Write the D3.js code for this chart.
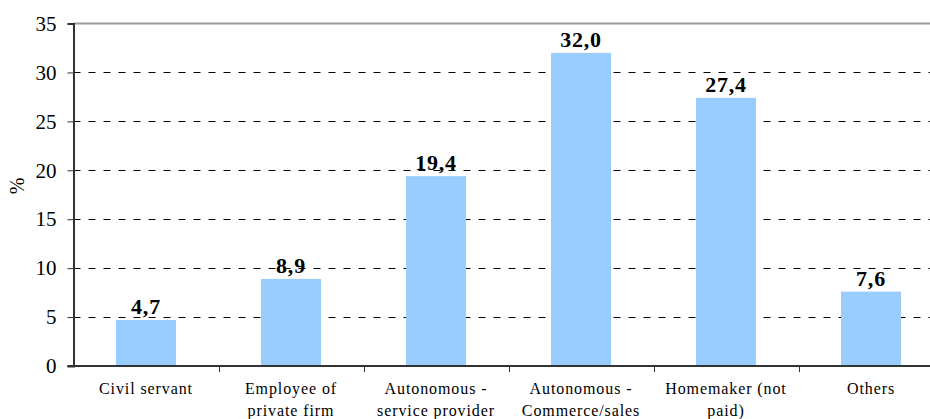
<!DOCTYPE html>
<html><head><meta charset="utf-8">
<script src="https://cdn.jsdelivr.net/npm/d3@7"></script>
<style>
body{margin:0;background:#fff;}
svg{display:block;}
</style></head>
<body>
<svg id="chart" width="930" height="419"></svg>
<script>
const categories = [
  ["Civil servant"],
  ["Employee of","private firm"],
  ["Autonomous -","service provider"],
  ["Autonomous -","Commerce/sales"],
  ["Homemaker (not","paid)"],
  ["Others"]
];
const values = [4.7, 8.9, 19.4, 32.0, 27.4, 7.6];
const valueLabels = ["4,7","8,9","19,4","32,0","27,4","7,6"];
const yTicks = [0,5,10,15,20,25,30,35];
const yTitle = "%";

(function(){
const FONT = "Liberation Serif";
const svg = d3.select("#chart");
const mLeft = 73.5, mRight = 943.5, mTop = 23.5, mBottom = 366;
const keys = categories.map((c,i)=>i);
const x = d3.scaleBand().domain(keys).range([mLeft,mRight]).paddingInner(0.586).paddingOuter(0.293);
const y = d3.scaleLinear().domain([0,35]).range([mBottom,mTop]);
const step = x.step();

// gridlines
svg.append("g").selectAll("line").data(yTicks.filter(t=>t>0 && t<35)).join("line")
  .attr("x1",mLeft).attr("x2",930).attr("y1",d=>Math.round(y(d))+0.5).attr("y2",d=>Math.round(y(d))+0.5)
  .attr("stroke","#000").attr("stroke-width",1).attr("stroke-dasharray","7,8");
// top line
svg.append("line").attr("x1",mLeft).attr("x2",930).attr("y1",y(35)).attr("y2",y(35))
  .attr("stroke","#9a9a9a").attr("stroke-width",2);

// bars
svg.append("g").selectAll("rect").data(values).join("rect")
  .attr("x",(d,i)=>x(i)).attr("width",x.bandwidth())
  .attr("y",d=>y(d)).attr("height",d=>y(0)-y(d))
  .attr("fill","#99ccff");

// value labels
svg.append("g").selectAll("text").data(values).join("text")
  .attr("x",(d,i)=>x(i)+x.bandwidth()/2).attr("y",d=>y(d)-6)
  .attr("text-anchor","middle").attr("font-weight","bold").attr("font-size","22px")
  .attr("letter-spacing","0.8px").attr("font-family",FONT).attr("fill","#000")
  .text((d,i)=>valueLabels[i]);

// y axis
const yAxis = svg.append("g").attr("transform",`translate(${mLeft},0)`)
  .call(d3.axisLeft(y).tickValues(yTicks).tickSize(6).tickPadding(11).tickFormat(d3.format("d")))
  .attr("font-family",FONT);
yAxis.select(".domain").attr("stroke","#333").attr("stroke-width",2);
yAxis.selectAll(".tick line").attr("stroke","#333").attr("stroke-width",1);
yAxis.selectAll(".tick text").attr("font-size","21px").attr("fill","#000").attr("font-family",FONT);

// x axis
svg.append("line").attr("x1",mLeft-6).attr("x2",930).attr("y1",mBottom).attr("y2",mBottom)
  .attr("stroke","#333").attr("stroke-width",2);
svg.append("g").selectAll("line").data(d3.range(1,6)).join("line")
  .attr("x1",d=>Math.round(mLeft+d*step)+0.5).attr("x2",d=>Math.round(mLeft+d*step)+0.5)
  .attr("y1",mBottom).attr("y2",mBottom+6).attr("stroke","#333").attr("stroke-width",1);

const xl = svg.append("g").selectAll("text").data(categories).join("text")
  .attr("text-anchor","middle").attr("font-size","16px").attr("letter-spacing","0.9px")
  .attr("font-family",FONT).attr("fill","#000");
xl.each(function(d,i){
  const t = d3.select(this);
  d.forEach((line,j)=>{
    t.append("tspan").attr("x",x(i)+x.bandwidth()/2).attr("y",394+j*22).text(line);
  });
});

// y title
svg.append("text").attr("transform","translate(24,186) rotate(-90)")
  .attr("text-anchor","middle").attr("font-size","20px").attr("font-family",FONT).attr("fill","#000").text(yTitle);
})();
</script>
</body></html>
